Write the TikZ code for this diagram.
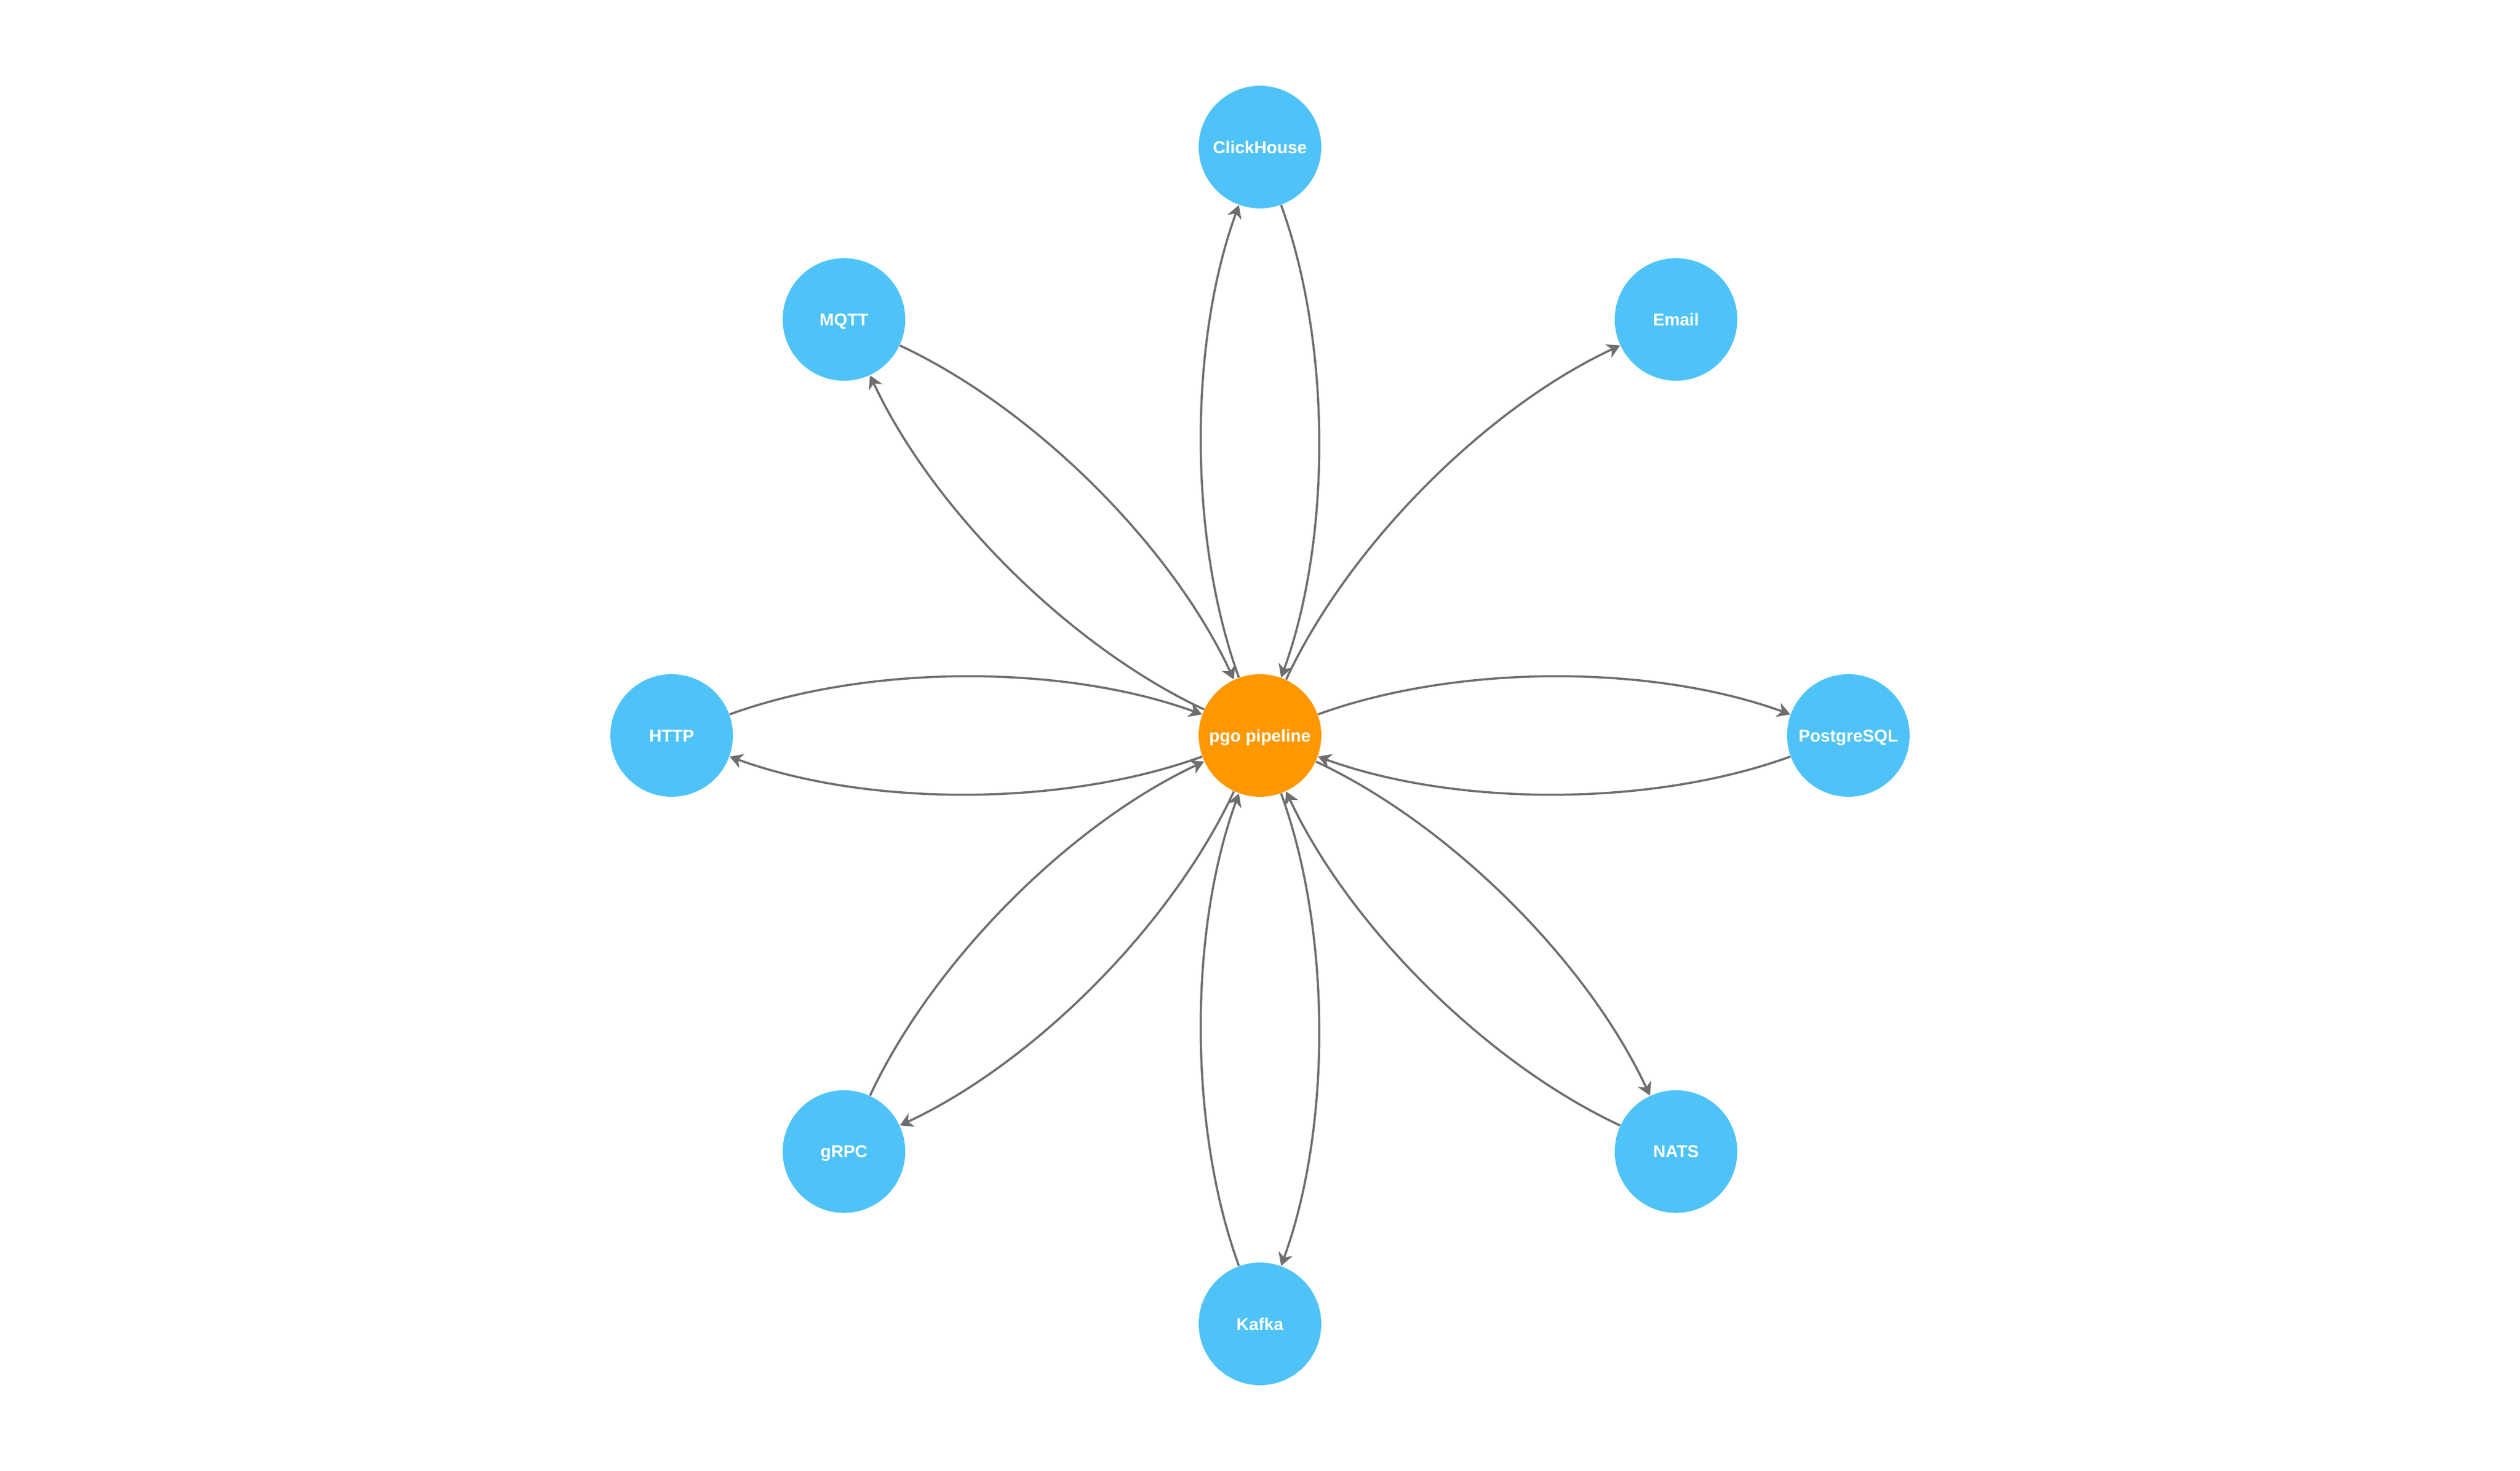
\documentclass[tikz,border=0pt]{standalone}
\usepackage{fontspec}
\setmainfont{Liberation Sans}
\usetikzlibrary{arrows.meta}
\definecolor{nodeblue}{HTML}{4FC3F7}
\definecolor{huborange}{HTML}{FF9800}
\definecolor{edgegray}{HTML}{6E6E6E}
\tikzset{
  svc/.style={circle, fill=nodeblue, draw=none, minimum size=2cm, inner sep=0pt,
    text=white, font=\fontsize{8}{9.6}\selectfont\bfseries,
    text height=5.8pt, text depth=0pt},
  hub/.style={svc, fill=huborange},
  flow/.style={draw=edgegray, line width=1pt,
    -{Stealth[length=6pt,width=6.8pt,inset=1.8pt]},
    bend left=20, looseness=0.8}
}
\begin{document}
\begin{tikzpicture}
\useasboundingbox (-20.56,-12) rectangle (20.56,12);
\node[hub] (p) at (0,0) {pgo pipeline};
\node[svc] (ch) at (90:9.6) {ClickHouse};
\node[svc] (em) at (45:9.6) {Email};
\node[svc] (pg) at (0:9.6) {PostgreSQL};
\node[svc] (na) at (-45:9.6) {NATS};
\node[svc] (ka) at (-90:9.6) {Kafka};
\node[svc] (gr) at (-135:9.6) {gRPC};
\node[svc] (ht) at (180:9.6) {HTTP};
\node[svc] (mq) at (135:9.6) {MQTT};
\draw[flow] (ht) to (p);
\draw[flow] (p) to (ht);
\draw[flow] (mq) to (p);
\draw[flow] (p) to (mq);
\draw[flow] (p) to (ch);
\draw[flow] (ch) to (p);
\draw[flow] (p) to (em);
\draw[flow] (p) to (pg);
\draw[flow] (pg) to (p);
\draw[flow] (p) to (na);
\draw[flow] (na) to (p);
\draw[flow] (p) to (ka);
\draw[flow] (ka) to (p);
\draw[flow] (gr) to (p);
\draw[flow] (p) to (gr);
\end{tikzpicture}
\end{document}
